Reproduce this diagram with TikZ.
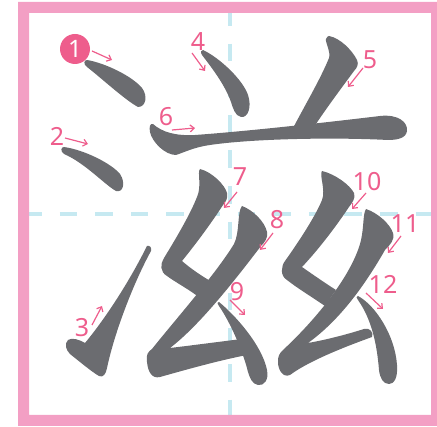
\documentclass[tikz,border=0pt]{standalone}
\usepackage{fontspec}
\setmainfont{Noto Sans}
\usetikzlibrary{arrows.meta}
\definecolor{framepink}{RGB}{243,159,196}
\definecolor{guideblue}{RGB}{198,233,241}
\definecolor{inkgray}{RGB}{107,108,112}
\definecolor{labelpink}{RGB}{238,93,140}
\tikzset{
  strokeshape/.style={fill=inkgray, draw=none},
  guide/.style={draw=guideblue, line width=4pt, dash pattern=on 17.6pt off 18pt},
  numlabel/.style={text=labelpink, font=\fontsize{25}{25}\selectfont, inner sep=0pt},
  numarrow/.style={draw=labelpink, line width=1.2pt, -{Straight Barb[length=4pt,width=7pt]}},
}
\begin{document}
\begin{tikzpicture}[x=1pt,y=-1pt]
\useasboundingbox (0,0) rectangle (437,427);
\begin{scope}
\clip (0,0) rectangle (437,427);
% guides
\draw[guide] (24,214) -- (436,214);
\draw[guide] (230,8) -- (230,420);
% frame
\fill[framepink, even odd rule] (18,2) rectangle (442,426) (29,13) rectangle (431,415);
\end{scope}
% stroke 1
\path[strokeshape] (87,60) .. controls (105,63) and (132,76) .. (142,88) .. controls (148,96) and (146,107) .. (138,107) .. controls (125,100) and (100,77) .. (87,67) .. controls (83,64) and (84,60) .. (87,60) -- cycle;
% stroke 2
\path[strokeshape] (64,147) .. controls (85,150) and (112,164) .. (120,174) .. controls (126,183) and (123,193) .. (116,191) .. controls (105,185) and (85,163) .. (64,154) .. controls (60,151) and (61,147) .. (64,147) -- cycle;
% stroke 3
\path[strokeshape] (147,246) .. controls (125,290) and (100,325) .. (85,343) .. controls (80,340) and (72,337) .. (68,340) .. controls (64,344) and (66,350) .. (70,354) .. controls (80,362) and (92,372) .. (99,376) .. controls (103,378) and (106,374) .. (107,368) .. controls (115,330) and (135,280) .. (151,251) .. controls (152,248) and (150,245) .. (147,246) -- cycle;
% stroke 4
\path[strokeshape] (203,50) .. controls (220,58) and (243,80) .. (248,95) .. controls (252,107) and (248,118) .. (241,117) .. controls (235,116) and (233,108) .. (231,102) .. controls (225,85) and (212,68) .. (202,55) .. controls (200,52) and (201,50) .. (203,50) -- cycle;
% stroke 5
\path[strokeshape] (329,36) .. controls (340,38) and (352,50) .. (357,60) .. controls (359,64) and (357,68) .. (354,71) .. controls (340,90) and (325,110) .. (312,130) -- (292,130) .. controls (305,105) and (320,80) .. (329,58) .. controls (331,52) and (325,42) .. (326,39) .. controls (327,37) and (328,36) .. (329,36) -- cycle;
% stroke 6
\path[strokeshape] (153,124) .. controls (162,132) and (175,136) .. (195,135) .. controls (250,131) and (330,122) .. (380,116) .. controls (398,114) and (408,122) .. (407,131) .. controls (406,138) and (398,140) .. (388,140) .. controls (330,137) and (250,139) .. (210,145) .. controls (195,147) and (185,152) .. (176,155) .. controls (165,155) and (152,142) .. (150,132) .. controls (149,127) and (150,123) .. (153,124) -- cycle;
% stroke 7
\path[strokeshape] (200,169) .. controls (212,172) and (225,185) .. (227,193) .. controls (228,198) and (226,202) .. (223,205) .. controls (210,225) and (195,245) .. (182,261) .. controls (190,268) and (200,275) .. (212,282) -- (200,298) .. controls (190,290) and (175,282) .. (167,276) .. controls (160,272) and (160,264) .. (164,258) .. controls (175,240) and (190,215) .. (197,197) .. controls (202,186) and (197,172) .. (200,169) -- cycle;
% stroke 8
\path[strokeshape] (242,206) .. controls (253,210) and (265,222) .. (267,232) .. controls (268,238) and (265,242) .. (261,246) .. controls (235,280) and (200,325) .. (170,348) .. controls (195,345) and (225,341) .. (250,338) -- (252,354) .. controls (220,360) and (185,370) .. (160,377) .. controls (152,379) and (148,372) .. (147,362) .. controls (146,354) and (148,352) .. (152,349) .. controls (175,320) and (215,275) .. (234,244) .. controls (240,232) and (237,212) .. (242,206) -- cycle;
% stroke 9
\path[strokeshape] (219,302) .. controls (235,315) and (262,345) .. (267,370) .. controls (269,380) and (264,386) .. (258,385) .. controls (252,384) and (250,378) .. (248,372) .. controls (244,355) and (232,325) .. (219,306) .. controls (217,303) and (217,302) .. (219,302) -- cycle;
% stroke 10
\path[strokeshape] (322,171) .. controls (335,174) and (350,185) .. (354,193) .. controls (356,198) and (352,203) .. (349,207) .. controls (335,228) and (318,250) .. (302,267) .. controls (312,274) and (325,283) .. (336,290) -- (325,306) .. controls (312,297) and (297,288) .. (287,280) .. controls (280,276) and (281,266) .. (285,261) .. controls (300,240) and (316,215) .. (322,200) .. controls (326,190) and (319,175) .. (322,171) -- cycle;
% stroke 11
\path[strokeshape] (366,209) .. controls (378,213) and (390,224) .. (393,233) .. controls (395,240) and (390,245) .. (385,250) .. controls (365,285) and (340,320) .. (308,343) .. controls (325,340) and (345,335) .. (364,329) .. controls (370,327) and (374,333) .. (372,337) .. controls (350,345) and (310,360) .. (290,375) .. controls (283,378) and (278,370) .. (278,362) .. controls (278,356) and (279,354) .. (283,350) .. controls (310,325) and (345,285) .. (358,250) .. controls (365,232) and (362,215) .. (366,209) -- cycle;
% stroke 12
\path[strokeshape] (358,296) .. controls (375,305) and (395,335) .. (397,365) .. controls (398,378) and (394,384) .. (389,384) .. controls (383,384) and (380,378) .. (379,370) .. controls (377,345) and (372,320) .. (358,300) .. controls (356,298) and (356,296) .. (358,296) -- cycle;
% labels
\node[circle, fill=labelpink, minimum size=30pt, inner sep=0pt, text=white, font=\fontsize{24}{24}\selectfont] (n1) at (75,49) {1};
\node[numlabel] (n2) at (57,136) {2};
\node[numlabel] (n3) at (82,328) {3};
\node[numlabel] (n4) at (198,42) {4};
\node[numlabel] (n5) at (370,60) {5};
\node[numlabel] (n6) at (166,117) {6};
\node[numlabel] (n7) at (240,177) {7};
\node[numlabel] (n8) at (277,220) {8};
\node[numlabel] (n9) at (237,292) {9};
\node[numlabel] (n10) at (367,182) {10};
\node[numlabel] (n11) at (405,224) {11};
\node[numlabel] (n12) at (383,284) {12};
% arrow ends
\coordinate (a1s) at (92,51);  \coordinate (a1e) at (112,60);
\coordinate (a2s) at (65,138); \coordinate (a2e) at (88,144);
\coordinate (a3s) at (92,325); \coordinate (a3e) at (102,306);
\coordinate (a4s) at (192,53); \coordinate (a4e) at (205,71);
\coordinate (a5s) at (363,68); \coordinate (a5e) at (348,87);
\coordinate (a6s) at (172,130); \coordinate (a6e) at (195,128);
\coordinate (a7s) at (237,192); \coordinate (a7e) at (224,208);
\coordinate (a8s) at (273,233); \coordinate (a8e) at (260,250);
\coordinate (a9s) at (230,300); \coordinate (a9e) at (245,315);
\coordinate (a10s) at (366,193); \coordinate (a10e) at (352,209);
\coordinate (a11s) at (401,236); \coordinate (a11e) at (388,253);
\coordinate (a12s) at (366,293); \coordinate (a12e) at (383,309);
\foreach \i in {1,...,12} { \draw[numarrow] (a\i s) -- (a\i e); }
\end{tikzpicture}
\end{document}
